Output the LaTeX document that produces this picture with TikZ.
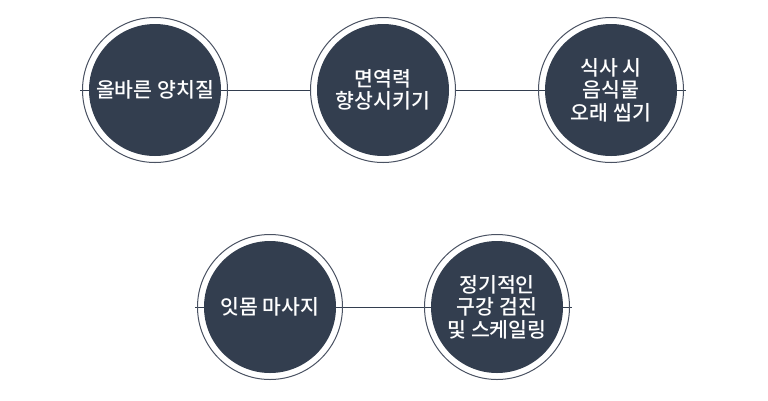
\documentclass[tikz,border=0pt]{standalone}
\usepackage{fontspec}
\newfontfamily\krfont{Noto Sans CJK KR Medium}
\usetikzlibrary{positioning,backgrounds}
\definecolor{discblue}{HTML}{333E4F}
\definecolor{ringgray}{HTML}{4A5262}

\begin{document}
\begin{tikzpicture}[x=1pt,y=-1pt,
		ring/.style={circle,draw=ringgray,line width=1pt,minimum size=145pt,inner sep=0pt},
		disc/.style={circle,fill=discblue,text=white,minimum size=132pt,inner sep=0pt,
			align=center,font=\krfont\fontsize{20.5pt}{22.5pt}\selectfont},
		conn/.style={draw=discblue,line width=0.9pt}]
		\useasboundingbox (0,0) rectangle (768,400);

		\begin{scope}[every node/.style={ring}]
			\node (r1) at (155,90) {};
			\node (r2) at (383,90) {};
			\node (r3) at (611,90) {};
			\node (r4) at (270,307) {};
			\node (r5) at (497,307) {};
		\end{scope}

		\begin{scope}[every node/.style={disc}]
			\node (brush) at (r1) {올바른 양치질};
			\node (immune) at (r2) {면역력\\향상시키기};
			\node (chew) at (r3) {식사 시\\음식물\\오래 씹기};
			\node (gum) at (r4) {잇몸 마사지};
			\node (check) at (r5) {정기적인\\구강 검진\\및 스케일링};
		\end{scope}

		\begin{scope}[on background layer]
			\path[conn] ([xshift=-2pt]r1.west) -- (r2) -- ([xshift=2pt]r3.east);
			\path[conn] ([xshift=-2pt]r4.west) -- ([xshift=2pt]r5.east);
		\end{scope}
	\end{tikzpicture}
\end{document}
